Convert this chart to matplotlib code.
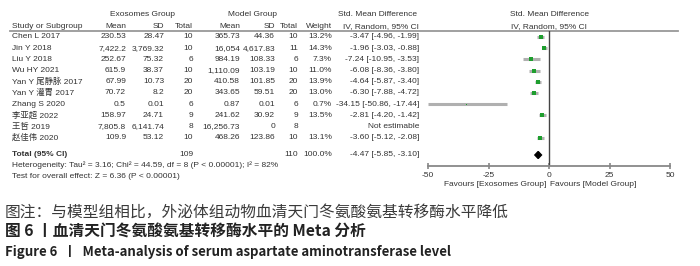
import matplotlib
matplotlib.use("Agg")
import matplotlib.pyplot as plt
import numpy as np

# data
studies = ["Chen L 2017", "Jin Y 2018", "Liu Y 2018", "Wu HY 2021",
           "Yan Y 尾静脉 2017", "Yan Y 灌胃 2017", "Zhang S 2020",
           "李亚超 2022", "王哲 2019", "赵佳伟 2020"]
exo_mean = ["230.53", "7,422.2", "252.67", "615.9", "67.99", "70.72",
            "0.5", "158.97", "7,805.8", "109.9"]
exo_sd = ["28.47", "3,769.32", "75.32", "38.37", "10.73", "8.2",
          "0.01", "24.71", "6,141.74", "53.12"]
exo_n = [10, 10, 6, 10, 20, 20, 6, 9, 8, 10]
mod_mean = ["365.73", "16,054", "984.19", "1,110.09", "410.58", "343.65",
            "0.87", "241.62", "16,256.73", "468.26"]
mod_sd = ["44.36", "4,617.83", "108.33", "103.19", "101.85", "59.51",
          "0.01", "30.92", "0", "123.86"]
mod_n = [10, 11, 6, 10, 20, 20, 6, 9, 8, 10]
weight = [13.2, 14.3, 7.3, 11.0, 13.9, 13.0, 0.7, 13.5, None, 13.1]
smd = [-3.47, -1.96, -7.24, -6.08, -4.64, -6.30, -34.15, -2.81, None, -3.60]
ci_lo = [-4.96, -3.03, -10.95, -8.36, -5.87, -7.88, -50.86, -4.20, None, -5.12]
ci_hi = [-1.99, -0.88, -3.53, -3.80, -3.40, -4.72, -17.44, -1.42, None, -2.08]

total_smd, total_lo, total_hi = -4.47, -5.85, -3.10
total_exo_n, total_mod_n = 109, 110
x_ticks = [-50, -25, 0, 25, 50]

# layout (pixel units of a 700x266 canvas)
W, H = 700, 266
row_y = [37 + 11.2 * i for i in range(len(studies))]
total_y = 155
axis_y = 166
head_y = 31
txt_color = "#333333"
tfont = ["Liberation Sans", "Noto Sans CJK SC"]
fs = 6

fig = plt.figure(figsize=(7.0, 2.66), dpi=100)
fig.patch.set_facecolor("white")

tx = fig.add_axes([0, 0, 1, 1])
tx.set_xlim(0, W)
tx.set_ylim(H, 0)
tx.axis("off")


def put(x, y, s, ha="right", bold=False, size=fs, color=txt_color):
    tx.text(x, y, s, ha=ha, va="center", fontsize=size, color=color,
            family=tfont, fontweight="bold" if bold else "normal")


# headers
put(143, 15, "Exosomes Group", ha="center")
put(253, 15, "Model Group", ha="center")
put(377, 15, "Std. Mean Difference", ha="center")
put(549, 15, "Std. Mean Difference", ha="center")
put(12, 27, "Study or Subgroup", ha="left")
cols = [126, 164, 193, 240, 275, 298, 332]
for x, s in zip(cols, ["Mean", "SD", "Total", "Mean", "SD", "Total", "Weight"]):
    put(x, 27, s)
put(419, 27, "IV, Random, 95% CI")
put(549, 27, "IV, Random, 95% CI", ha="center")
tx.plot([10, 678], [head_y, head_y], color="#999999", lw=1.3)

# study rows
for i, name in enumerate(studies):
    y = row_y[i]
    put(12, y, name, ha="left")
    vals = [exo_mean[i], exo_sd[i], str(exo_n[i]), mod_mean[i], mod_sd[i],
            str(mod_n[i]), "" if weight[i] is None else f"{weight[i]:.1f}%"]
    for x, s in zip(cols, vals):
        put(x, y, s)
    if smd[i] is None:
        put(419, y, "Not estimable")
    else:
        put(419, y, f"{smd[i]:.2f} [{ci_lo[i]:.2f}, {ci_hi[i]:.2f}]")

# totals
put(12, total_y, "Total (95% CI)", ha="left", bold=True)
put(cols[2], total_y, str(total_exo_n))
put(cols[5], total_y, str(total_mod_n))
put(cols[6], total_y, "100.0%")
put(419, total_y, f"{total_smd:.2f} [{total_lo:.2f}, {total_hi:.2f}]")
put(12, 165, "Heterogeneity: Tau² = 3.16; Chi² = 44.59, df = 8 (P < 0.00001); I² = 82%", ha="left")
put(12, 176, "Test for overall effect: Z = 6.36 (P < 0.00001)", ha="left")

# forest panel
x0, x1 = 428, 670
ax = fig.add_axes([x0 / W, 1 - axis_y / H, (x1 - x0) / W, (axis_y - head_y) / H])
ax.set_xlim(-50, 50)
ax.set_ylim(axis_y, head_y)
ax.patch.set_alpha(0)
for k in ["top", "left", "right"]:
    ax.spines[k].set_visible(False)
ax.spines["bottom"].set_color("#888888")
ax.spines["bottom"].set_linewidth(1.3)
ax.set_yticks([])
ax.set_xticks(x_ticks)
ax.set_xticklabels([str(t) for t in x_ticks], fontsize=fs, color=txt_color,
                   family=tfont)
ax.tick_params(axis="x", direction="inout", length=5, width=1.2,
               color="#888888", pad=2)
ax.axvline(0, color="#444444", lw=1.0)

for i in range(len(studies)):
    if smd[i] is None:
        continue
    ax.plot([max(ci_lo[i], -50), ci_hi[i]], [row_y[i], row_y[i]],
            color="#b0b0b0", lw=2.2, solid_capstyle="butt", clip_on=False)
    ax.plot(smd[i], row_y[i], marker="s", color="#1e9e2e", ms=np.sqrt(weight[i]) * 0.85,
            mew=0)

dh = 3.5
ax.fill([total_lo, total_smd, total_hi, total_smd],
        [total_y, total_y - dh, total_y, total_y + dh], color="black")

put(495, 185, "Favours [Exosomes Group]", ha="center")
put(593, 185, "Favours [Model Group]", ha="center")

# caption
cap_font = ["Noto Sans CJK SC", "DejaVu Sans"]
tx.text(5, 212, "图注：与模型组相比，外泌体组动物血清天门冬氨酸氨基转移酶水平降低",
        ha="left", va="center", fontsize=11.3, color="#3a3a3a", family=cap_font)
tx.text(5, 232, "图 6 丨血清天门冬氨酸氨基转移酶水平的 Meta 分析",
        ha="left", va="center", fontsize=11.3, color="#222222", family=cap_font,
        fontweight="bold")
tx.text(5, 252, "Figure 6  丨  Meta-analysis of serum aspartate aminotransferase level",
        ha="left", va="center", fontsize=9.5, color="#222222", family=cap_font,
        fontweight="bold")

fig.savefig("out.png", dpi=100, facecolor="white")
